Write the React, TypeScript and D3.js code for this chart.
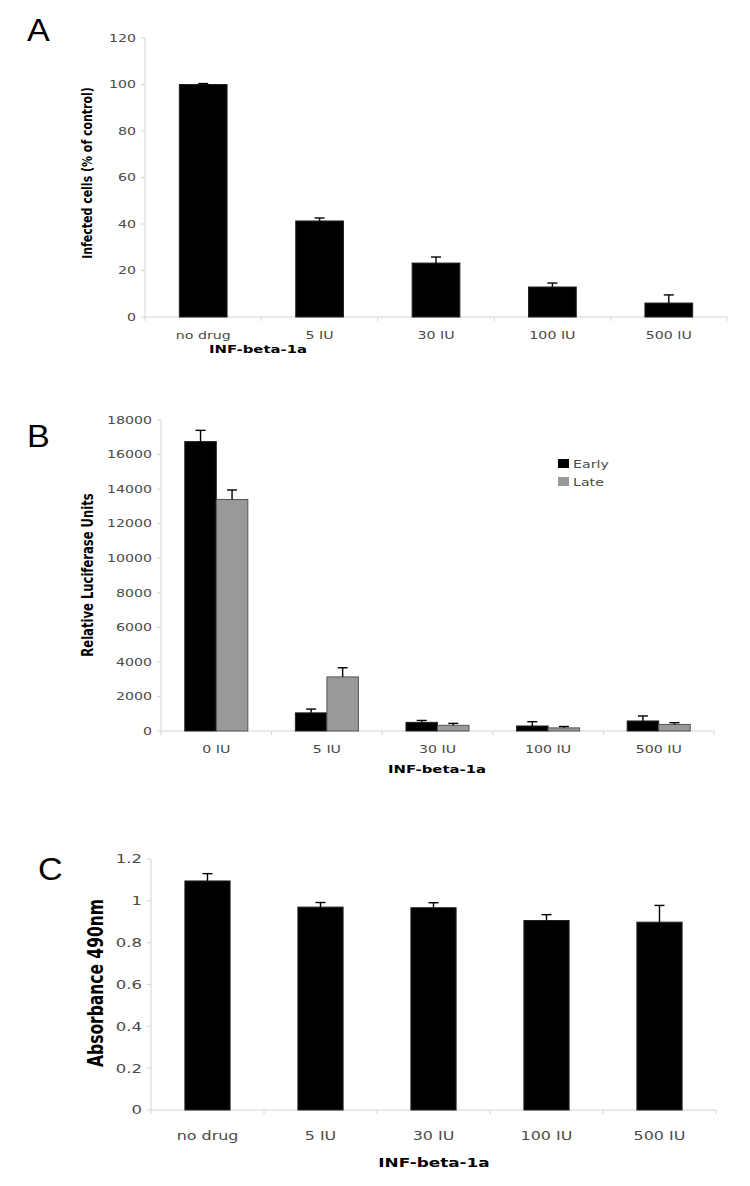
import React from "react";
import * as d3 from "d3";

// ---------- Data ----------
const catsA = ["no drug", "5 IU", "30 IU", "100 IU", "500 IU"];
const valsA = [100, 41.3, 23.2, 12.9, 6.0];
const errA = [0.4, 1.3, 2.6, 1.7, 3.5];
const ticksA = [0, 20, 40, 60, 80, 100, 120];

const catsB = ["0 IU", "5 IU", "30 IU", "100 IU", "500 IU"];
const earlyB = [16750, 1050, 500, 290, 580];
const earlyErrB = [650, 220, 110, 250, 290];
const lateB = [13400, 3130, 330, 180, 380];
const lateErrB = [550, 530, 110, 80, 100];
const ticksB = [0, 2000, 4000, 6000, 8000, 10000, 12000, 14000, 16000, 18000];
const seriesB = ["Early", "Late"];

const catsC = ["no drug", "5 IU", "30 IU", "100 IU", "500 IU"];
const valsC = [1.095, 0.97, 0.967, 0.906, 0.898];
const errC = [0.035, 0.022, 0.024, 0.028, 0.08];
const ticksC = [0, 0.2, 0.4, 0.6, 0.8, 1, 1.2];

const SX = 1.35;
const FONT = "'DejaVu Sans', Verdana, sans-serif";
const AXIS = "#d4d4d4";
const TICKTXT = "#4a4a4a";

function SText({ x, y, size, weight = "normal", fill = TICKTXT, anchor = "middle", rotate = false, dy = "0", sx = SX, family = FONT, children }: any) {
  const t = `translate(${x},${y}) scale(${sx},1)` + (rotate ? " rotate(-90)" : "");
  return (
    <text transform={t} fontSize={size} fontWeight={weight} fill={fill} textAnchor={anchor} dy={dy} fontFamily={family}>
      {children}
    </text>
  );
}

function ErrBar({ cx, y0, y1 }: any) {
  return (
    <g stroke="#000" strokeWidth={1.4}>
      <line x1={cx} x2={cx} y1={y0} y2={y1} />
      <line x1={cx - 5} x2={cx + 5} y1={y1} y2={y1} />
    </g>
  );
}

function Axes({ x0, x1, y, yTicks, n, yTop, tickSize, fmt }: any) {
  const step = (x1 - x0) / n;
  const yBottom = y(yTicks[0]);
  return (
    <g>
      <line x1={x0} x2={x0} y1={yTop} y2={yBottom} stroke={AXIS} strokeWidth={1} />
      <line x1={x0} x2={x1} y1={yBottom} y2={yBottom} stroke={AXIS} strokeWidth={1} />
      {yTicks.map((t: number) => (
        <g key={t}>
          <line x1={x0 - 4} x2={x0} y1={y(t)} y2={y(t)} stroke={AXIS} />
          <SText x={x0 - 9} y={y(t)} size={tickSize} anchor="end" dy="0.36em">
            {fmt(t)}
          </SText>
        </g>
      ))}
      {d3.range(n + 1).map((i) => (
        <line key={i} x1={x0 + i * step} x2={x0 + i * step} y1={yBottom} y2={yBottom + 4} stroke={AXIS} />
      ))}
    </g>
  );
}

function PanelA() {
  const x0 = 145, x1 = 727;
  const y = d3.scaleLinear().domain([0, 120]).range([317, 38]);
  const x = d3.scaleBand().domain(catsA).range([x0, x1]).paddingInner(0.59).paddingOuter(0.295);
  return (
    <g>
      <SText x={27} y={41} size={31} fill="#000" anchor="start" sx={1.1} family="'Liberation Sans', Arial, sans-serif">A</SText>
      <Axes x0={x0} x1={x1} y={y} yTicks={ticksA} n={catsA.length} yTop={38} tickSize={10.5} fmt={(t: number) => String(t)} />
      {catsA.map((c, i) => (
        <g key={c}>
          <rect x={x(c)} y={y(valsA[i])} width={x.bandwidth()} height={y(0) - y(valsA[i])} fill="#000" stroke="#222" />
          <ErrBar cx={x(c)! + x.bandwidth() / 2} y0={y(valsA[i])} y1={y(valsA[i] + errA[i])} />
          <SText x={x(c)! + x.bandwidth() / 2} y={339} size={10.5}>{c}</SText>
        </g>
      ))}
      <SText x={87} y={173} size={11} weight="bold" fill="#000" rotate dy="0.35em">Infected cells (% of control)</SText>
      <SText x={258} y={353} size={11} weight="bold" fill="#000">INF-beta-1a</SText>
    </g>
  );
}

function PanelB() {
  const x0 = 161, x1 = 714;
  const y = d3.scaleLinear().domain([0, 18000]).range([731, 420]);
  const x = d3.scaleBand().domain(catsB).range([x0, x1]).paddingInner(0.43).paddingOuter(0.215);
  const xs = d3.scaleBand().domain(seriesB).range([0, x.bandwidth()]);
  const vals = [earlyB, lateB];
  const errs = [earlyErrB, lateErrB];
  const fills = ["#000", "#999"];
  const strokes = ["#222", "#555"];
  return (
    <g>
      <SText x={27} y={447} size={31} fill="#000" anchor="start" sx={1.1} family="'Liberation Sans', Arial, sans-serif">B</SText>
      <Axes x0={x0} x1={x1} y={y} yTicks={ticksB} n={catsB.length} yTop={420} tickSize={10.5} fmt={(t: number) => String(t)} />
      {catsB.map((c, i) => (
        <g key={c}>
          {seriesB.map((s, k) => (
            <g key={s}>
              <rect x={x(c)! + xs(s)!} y={y(vals[k][i])} width={xs.bandwidth()} height={y(0) - y(vals[k][i])} fill={fills[k]} stroke={strokes[k]} />
              <ErrBar cx={x(c)! + xs(s)! + xs.bandwidth() / 2} y0={y(vals[k][i])} y1={y(vals[k][i] + errs[k][i])} />
            </g>
          ))}
          <SText x={x(c)! + x.bandwidth() / 2} y={753} size={10.5}>{c}</SText>
        </g>
      ))}
      {seriesB.map((s, k) => (
        <g key={s}>
          <rect x={558} y={459 + k * 18} width={11} height={9} fill={fills[k]} />
          <SText x={573} y={464 + k * 18} size={10.5} anchor="start" dy="0.36em">{s}</SText>
        </g>
      ))}
      <SText x={88} y={575} size={11.6} weight="bold" fill="#000" rotate dy="0.35em">Relative Luciferase Units</SText>
      <SText x={437} y={773} size={11} weight="bold" fill="#000">INF-beta-1a</SText>
    </g>
  );
}

function PanelC() {
  const x0 = 151, x1 = 716;
  const y = d3.scaleLinear().domain([0, 1.2]).range([1110, 859]);
  const x = d3.scaleBand().domain(catsC).range([x0, x1]).paddingInner(0.6).paddingOuter(0.3);
  return (
    <g>
      <SText x={38} y={880} size={31} fill="#000" anchor="start" sx={1.1} family="'Liberation Sans', Arial, sans-serif">C</SText>
      <Axes x0={x0} x1={x1} y={y} yTicks={ticksC} n={catsC.length} yTop={859} tickSize={12.2} fmt={(t: number) => d3.format("~g")(t)} />
      {catsC.map((c, i) => (
        <g key={c}>
          <rect x={x(c)} y={y(valsC[i])} width={x.bandwidth()} height={y(0) - y(valsC[i])} fill="#000" stroke="#222" />
          <ErrBar cx={x(c)! + x.bandwidth() / 2} y0={y(valsC[i])} y1={y(valsC[i] + errC[i])} />
          <SText x={x(c)! + x.bandwidth() / 2} y={1140} size={11.8}>{c}</SText>
        </g>
      ))}
      <SText x={96} y={983} size={15.5} weight="bold" fill="#000" rotate dy="0.35em">Absorbance 490nm</SText>
      <SText x={434} y={1167} size={12.5} weight="bold" fill="#000">INF-beta-1a</SText>
    </g>
  );
}

export default function App() {
  return (
    <svg width={750} height={1186} style={{ position: "absolute", left: 0, top: 0, background: "#fff" }}>
      <rect width={750} height={1186} fill="#fff" />
      <PanelA />
      <PanelB />
      <PanelC />
    </svg>
  );
}
